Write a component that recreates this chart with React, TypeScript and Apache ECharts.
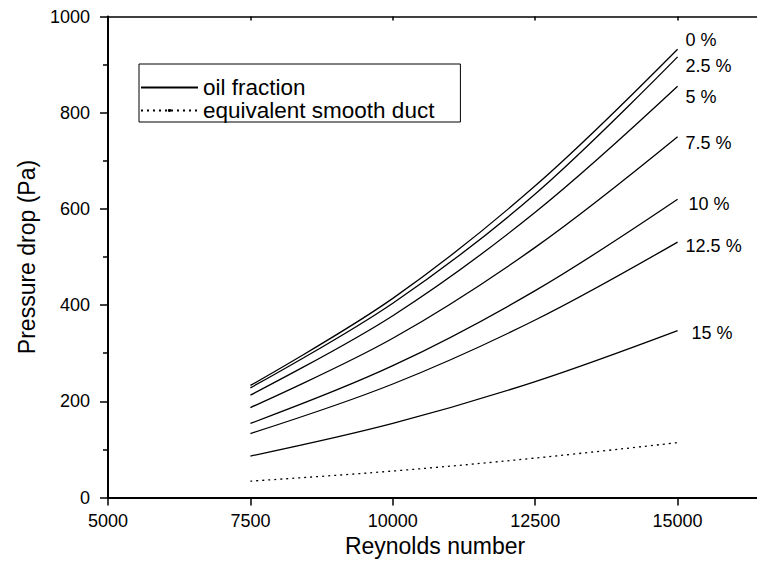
import React, { useEffect, useRef } from "react";
import * as echarts from "echarts";

const reynolds = [7500, 10000, 12500, 15000];
const oilLabels = ["0 %", "2.5 %", "5 %", "7.5 %", "10 %", "12.5 %", "15 %"];
const oil0 = [233, 414, 648, 932];
const oil25 = [228, 404, 631, 916];
const oil5 = [213, 378, 593, 855];
const oil75 = [187, 331, 520, 750];
const oil10 = [154, 274, 430, 620];
const oil125 = [133, 236, 369, 531];
const oil15 = [86, 154, 241, 347];
const smoothDuct = [34, 55, 82, 114];

const oilSeries = [oil0, oil25, oil5, oil75, oil10, oil125, oil15];
const labelOffsets = [
  [0, -9],
  [0, 9],
  [0, 11],
  [0, 6],
  [3, 5],
  [0, 4],
  [6, 2],
];

const FONT = "Liberation Sans";
const CHART_W = 823;

export default function App() {
  const ref = useRef<HTMLDivElement>(null);
  useEffect(() => {
    document.body.style.margin = "0";
    if (!ref.current) return;
    const chart = echarts.init(ref.current, undefined, { renderer: "svg" });
    const pair = (vals: number[]) => reynolds.map((x, i) => [x, vals[i]]);
    const series: any[] = oilSeries.map((vals, i) => ({
      name: "oil fraction",
      type: "line",
      data: pair(vals),
      smooth: 0.35,
      showSymbol: false,
      symbol: "none",
      lineStyle: { color: "#000", width: 1.3, type: "solid" },
      itemStyle: { color: "#000" },
      endLabel: {
        show: true,
        formatter: () => oilLabels[i],
        distance: 8,
        offset: labelOffsets[i],
        color: "#000",
        fontFamily: FONT,
        fontSize: 18,
      },
      silent: true,
    }));
    series.push({
      name: "equivalent smooth duct",
      type: "line",
      data: pair(smoothDuct),
      smooth: 0.35,
      showSymbol: false,
      symbol: "circle",
      symbolSize: 3,
      lineStyle: { color: "#000", width: 1.3, type: [2, 4] },
      itemStyle: { color: "#000" },
      silent: true,
    });
    chart.setOption({
      animation: false,
      textStyle: { fontFamily: FONT, color: "#000" },
      grid: { left: 108, top: 16.5, bottom: 73.5, right: 0, containLabel: false },
      legend: {
        data: [
          { name: "oil fraction", itemStyle: { opacity: 0 } },
          { name: "equivalent smooth duct", itemStyle: { color: "#000", borderWidth: 0 } },
        ],
        orient: "vertical",
        left: 139,
        top: 64,
        padding: [12, 26, 0, 1],
        itemGap: 0,
        itemWidth: 57,
        itemHeight: 4,
        borderColor: "#000",
        borderWidth: 1,
        backgroundColor: "#fff",
        textStyle: { fontFamily: FONT, fontSize: 22.5, color: "#000", lineHeight: 23 },
        selectedMode: false,
        inactiveColor: "#000",
      },
      xAxis: [
        {
          type: "value",
          min: 5000,
          max: 17500,
          interval: 2500,
          position: "bottom",
          name: "Reynolds number",
          nameLocation: "middle",
          nameGap: 36,
          nameTextStyle: {
            fontFamily: FONT,
            fontSize: 23,
            color: "#000",
            padding: [0, 58, 0, 0],
          },
          axisLine: { show: true, onZero: false, lineStyle: { color: "#000", width: 2 } },
          axisTick: { show: true, inside: false, length: 8, lineStyle: { color: "#000", width: 1.5 } },
          axisLabel: {
            margin: 14,
            fontFamily: FONT,
            fontSize: 18,
            color: "#000",
            formatter: (v: number) => (v > 15000 ? "" : String(v)),
          },
          splitLine: { show: false },
        },
        {
          type: "value",
          min: 5000,
          max: 17500,
          interval: 2500,
          position: "top",
          axisLine: { show: true, onZero: false, lineStyle: { color: "#000", width: 1.5 } },
          axisTick: { show: true, inside: true, length: 4, lineStyle: { color: "#000", width: 1.5 } },
          axisLabel: { show: false },
          splitLine: { show: false },
        },
      ],
      yAxis: {
        type: "value",
        min: 0,
        max: 1000,
        interval: 200,
        name: "Pressure drop (Pa)",
        nameLocation: "middle",
        nameGap: 70,
        nameTextStyle: { fontFamily: FONT, fontSize: 23, color: "#000" },
        axisLine: { show: true, onZero: false, lineStyle: { color: "#000", width: 2 } },
        axisTick: { show: true, inside: false, length: 8, lineStyle: { color: "#000", width: 1.5 } },
        minorTick: { show: true, splitNumber: 2, length: 5, lineStyle: { color: "#000", width: 1.5 } },
        axisLabel: {
          margin: 18,
          fontFamily: FONT,
          fontSize: 18,
          color: "#000",
          formatter: (v: number) => String(v),
        },
        splitLine: { show: false },
        minorSplitLine: { show: false },
      },
      series,
    });
    return () => chart.dispose();
  }, []);
  return (
    <div style={{ width: 757, height: 571, overflow: "hidden", position: "relative" }}>
      <div ref={ref} style={{ width: CHART_W, height: 571 }} />
    </div>
  );
}
